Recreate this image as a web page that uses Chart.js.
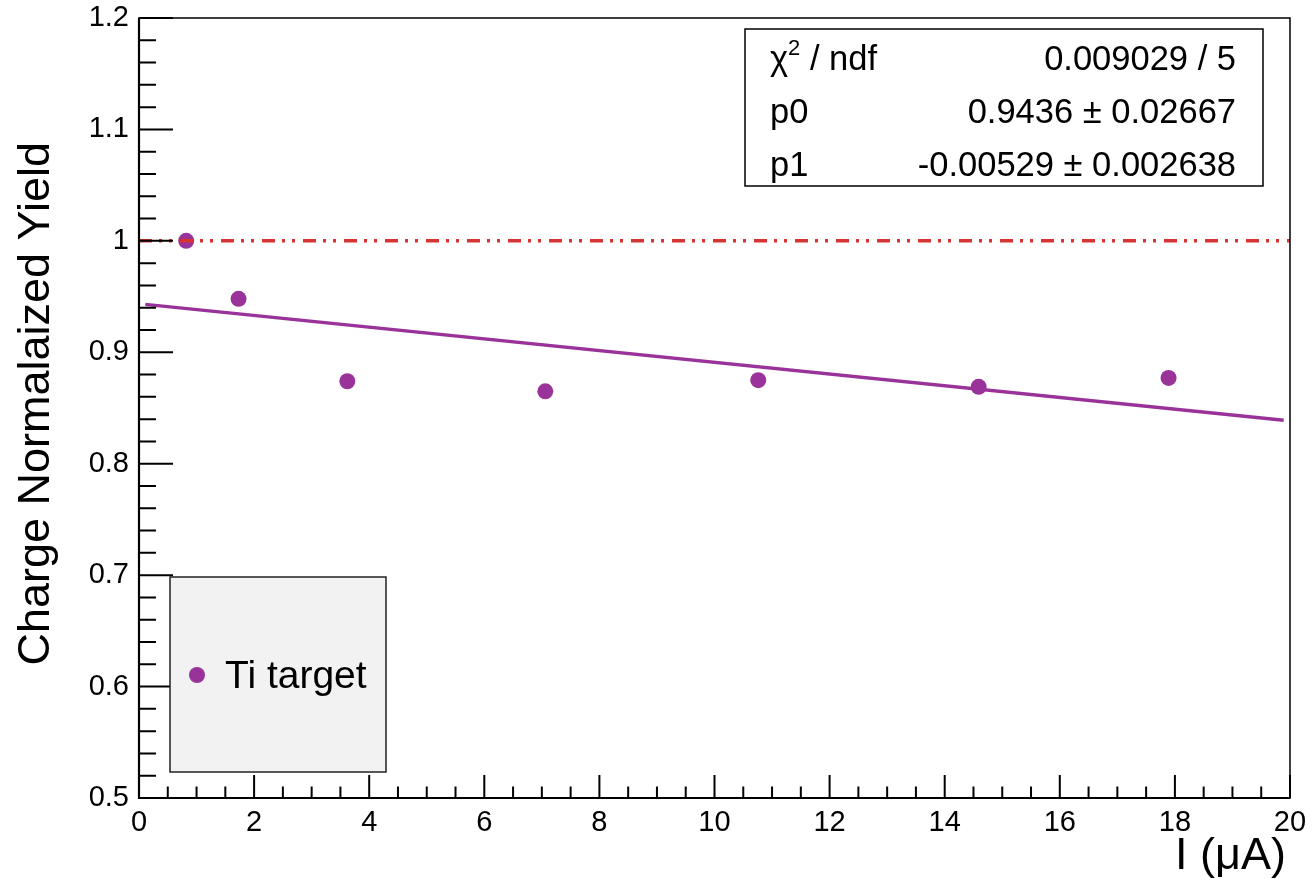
<!DOCTYPE html>
<html>
<head>
<meta charset="utf-8">
<script src="https://cdn.jsdelivr.net/npm/chart.js@4.4.0/dist/chart.umd.min.js"></script>
<style>
  html, body { margin: 0; padding: 0; background: #fff; }
  #wrap { width: 1312px; height: 879px; position: relative; }
</style>
</head>
<body>
<div id="wrap"><canvas id="c"></canvas></div>
<script>
// data
const currents = [0.82, 1.73, 3.62, 7.06, 10.76, 14.59, 17.89];
const yields = [1.000, 0.948, 0.874, 0.865, 0.875, 0.869, 0.877];

// fit line end points (pol1 fit, drawn over the fit range)
const fitX = [0.11, 19.89];
const fitY = [0.943, 0.839];

// reference line at 1
const refX = [0, 20];
const refY = [1, 1];

const xTicks = [0, 2, 4, 6, 8, 10, 12, 14, 16, 18, 20];
const yTicks = [0.5, 0.6, 0.7, 0.8, 0.9, 1.0, 1.1, 1.2];
const yTickLabels = ["0.5", "0.6", "0.7", "0.8", "0.9", "1", "1.1", "1.2"];

const statNames = ["p0", "p1"];
const statValues = ["0.9436 \u00b1 0.02667", "-0.00529 \u00b1 0.002638"];
const chi2Text = "0.009029 / 5";

const FONT = '"Liberation Sans", Arial, Helvetica, sans-serif';
const PURPLE = "#993399";
const RED = "#d63333";

const pairs = (xs, ys) => xs.map((x, i) => ({ x: x, y: ys[i] }));

const rootFrame = {
  id: "rootFrame",
  afterDatasetsDraw(chart) {
    const { ctx, chartArea: a, scales: { x, y } } = chart;
    ctx.save();
    ctx.strokeStyle = "#000";

    // frame
    ctx.lineWidth = 1.5;
    ctx.strokeRect(a.left, a.top, a.right - a.left, a.bottom - a.top);
    ctx.lineWidth = 2.2;
    ctx.beginPath();
    ctx.moveTo(a.left, a.top);
    ctx.lineTo(a.left, a.bottom);
    ctx.lineTo(a.right, a.bottom);
    ctx.stroke();

    // y ticks (inward)
    ctx.lineWidth = 2;
    ctx.beginPath();
    for (let i = 0; i <= 35; i++) {
      const py = y.getPixelForValue(0.5 + i * 0.02);
      const len = i % 5 === 0 ? 34 : 17;
      ctx.moveTo(a.left, py);
      ctx.lineTo(a.left + len, py);
    }
    // x ticks (inward)
    for (let i = 0; i <= 40; i++) {
      const px = x.getPixelForValue(i * 0.5);
      const len = i % 4 === 0 ? 23 : 11.5;
      ctx.moveTo(px, a.bottom);
      ctx.lineTo(px, a.bottom - len);
    }
    ctx.stroke();

    // tick labels
    ctx.fillStyle = "#000";
    ctx.font = "29px " + FONT;
    ctx.textAlign = "right";
    ctx.textBaseline = "middle";
    yTicks.forEach((v, i) => {
      ctx.fillText(yTickLabels[i], a.left - 10, y.getPixelForValue(v));
    });
    ctx.textAlign = "center";
    ctx.textBaseline = "alphabetic";
    xTicks.forEach(v => {
      ctx.fillText(String(v), x.getPixelForValue(v), a.bottom + 33);
    });

    // axis titles
    ctx.font = "45px " + FONT;
    ctx.textAlign = "right";
    ctx.fillText("I (\u03bcA)", a.right - 4, 869);
    ctx.save();
    ctx.translate(49, 142);
    ctx.rotate(-Math.PI / 2);
    ctx.textAlign = "right";
    ctx.fillText("Charge Normalaized Yield", 0, 0);
    ctx.restore();

    // legend box
    ctx.fillStyle = "#f2f2f2";
    ctx.fillRect(170, 577, 216, 195);
    ctx.lineWidth = 1.5;
    ctx.strokeStyle = "#222";
    ctx.strokeRect(170, 577, 216, 195);
    ctx.fillStyle = PURPLE;
    ctx.beginPath();
    ctx.arc(197, 675, 8, 0, Math.PI * 2);
    ctx.fill();
    ctx.fillStyle = "#000";
    ctx.font = "39px " + FONT;
    ctx.textAlign = "left";
    ctx.fillText("Ti target", 225, 688);

    // stats box
    ctx.fillStyle = "#fff";
    ctx.fillRect(745, 29, 518, 157);
    ctx.strokeStyle = "#000";
    ctx.lineWidth = 1.5;
    ctx.strokeRect(745, 29, 518, 157);
    ctx.fillStyle = "#000";
    ctx.font = "34.5px " + FONT;
    ctx.textAlign = "left";
    ctx.fillText("\u03c7", 770, 70);
    const wChi = ctx.measureText("\u03c7").width;
    ctx.font = "22px " + FONT;
    ctx.fillText("2", 770 + wChi, 55);
    const w2 = ctx.measureText("2").width;
    ctx.font = "34.5px " + FONT;
    ctx.fillText(" / ndf", 770 + wChi + w2, 70);
    statNames.forEach((n, i) => ctx.fillText(n, 770, 123 + i * 53));
    ctx.textAlign = "right";
    ctx.fillText(chi2Text, 1236, 70);
    statValues.forEach((v, i) => ctx.fillText(v, 1236, 123 + i * 53));

    ctx.restore();
  }
};

new Chart(document.getElementById("c"), {
  type: "scatter",
  data: {
    datasets: [
      {
        label: "ref",
        type: "line",
        data: pairs(refX, refY),
        borderColor: RED,
        borderWidth: 3.5,
        borderDash: [13, 7, 3, 7, 3, 8],
        pointRadius: 0,
        order: 0
      },
      {
        label: "fit",
        type: "line",
        data: pairs(fitX, fitY),
        borderColor: PURPLE,
        borderWidth: 3.5,
        pointRadius: 0,
        order: 1
      },
      {
        label: "Ti target",
        data: pairs(currents, yields),
        backgroundColor: PURPLE,
        borderColor: PURPLE,
        pointRadius: 8,
        borderWidth: 0,
        order: 2
      }
    ]
  },
  options: {
    responsive: true,
    maintainAspectRatio: false,
    animation: false,
    devicePixelRatio: 1,
    layout: { padding: { left: 139, right: 22, top: 18, bottom: 81 } },
    plugins: { legend: { display: false }, tooltip: { enabled: false } },
    scales: {
      x: { type: "linear", min: 0, max: 20, display: false },
      y: { type: "linear", min: 0.5, max: 1.2, display: false }
    }
  },
  plugins: [rootFrame]
});
</script>
</body>
</html>
